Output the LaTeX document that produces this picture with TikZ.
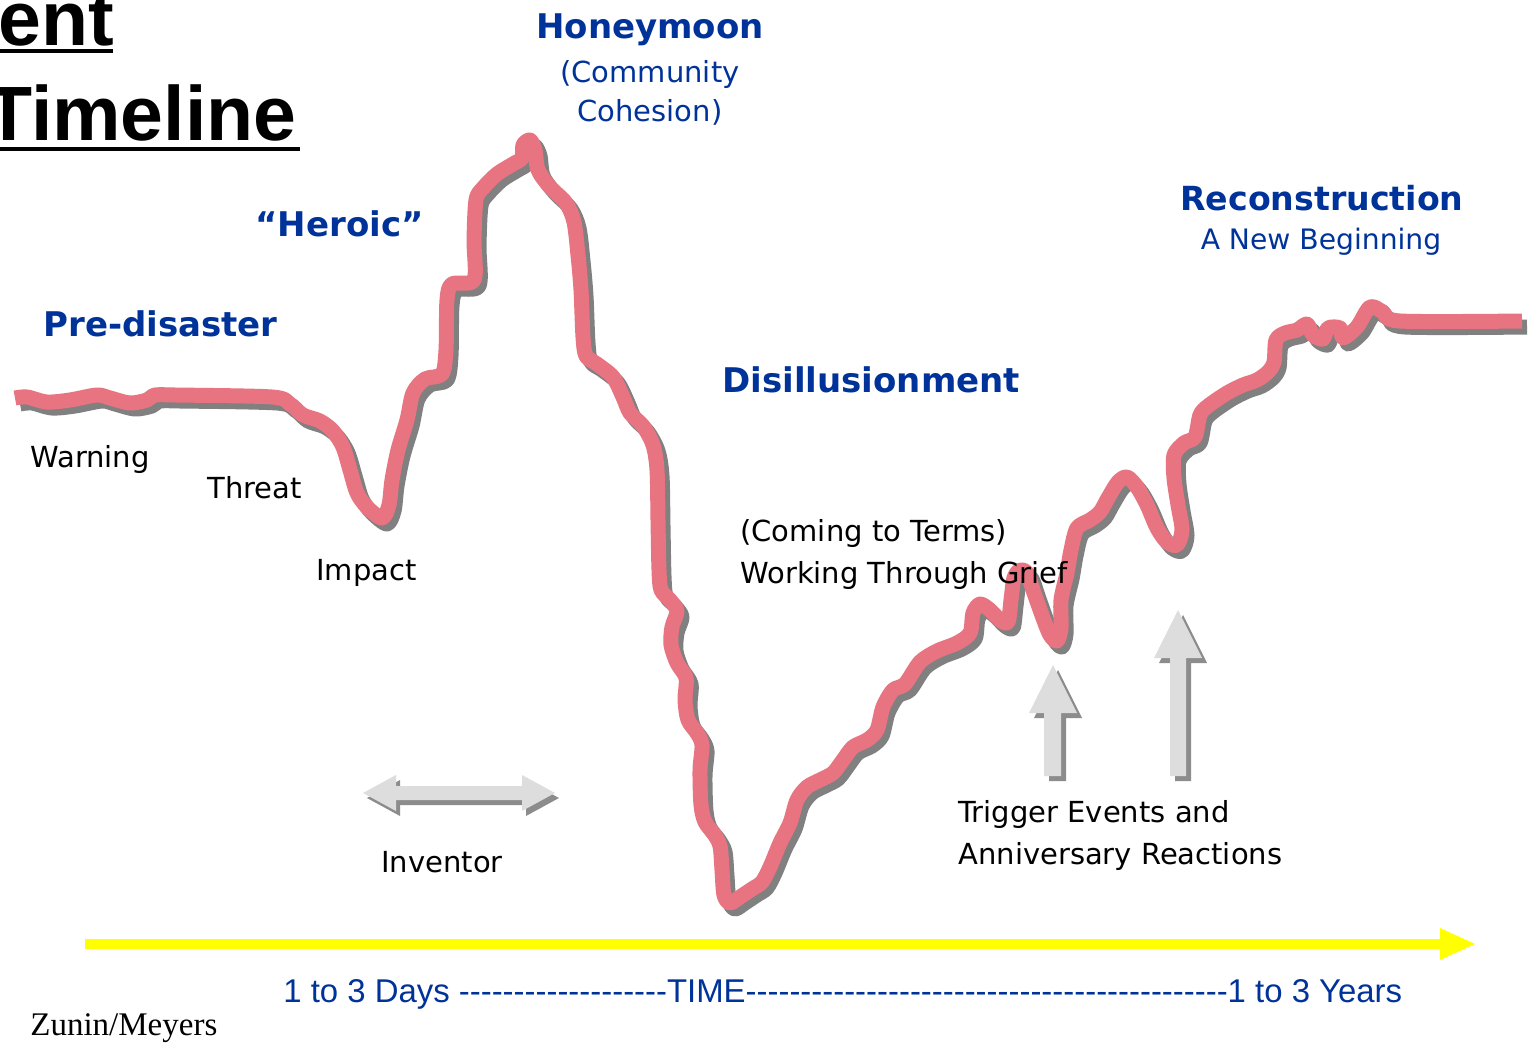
\documentclass[tikz,border=0pt]{standalone}
\usepackage{fontspec}
\setmainfont{DejaVu Sans}
\newfontfamily\titlefont{Liberation Sans}
\newfontfamily\arialf{Liberation Sans}
\newfontfamily\timesf{Liberation Serif}
\definecolor{curvered}{RGB}{231,116,128}
\definecolor{shadowgray}{RGB}{128,128,128}
\definecolor{headblue}{RGB}{0,51,153}
\definecolor{arrowgray}{RGB}{221,221,221}
\definecolor{arrowshadow}{RGB}{140,140,140}
\definecolor{axisyellow}{RGB}{255,255,0}
\tikzset{
  lbl/.style={anchor=base west, inner sep=0pt, font=\fontsize{14.5}{17}\selectfont},
  bluelbl/.style={anchor=base, inner sep=0pt, text=headblue, font=\fontsize{14.5}{17}\selectfont},
  headlbl/.style={anchor=base west, inner sep=0pt, text=headblue, font=\bfseries\fontsize{17}{20}\selectfont},
  titlelbl/.style={anchor=base west, inner sep=0pt, font=\titlefont\bfseries\fontsize{38.5}{44}\selectfont},
  uline/.style={line width=2pt, black},
  curvestroke/.style={line width=7.5pt, line join=round, line cap=butt},
  blockarrow/.style={fill=arrowgray},
  blockshadow/.style={fill=arrowshadow},
}
\newcommand\hyph{-\kern0pt}
\begin{document}
\begin{tikzpicture}[x=0.5pt,y=-0.5pt]
\useasboundingbox (0,0) rectangle (1531,1044);
\clip (0,0) rectangle (1531,1044);
\fill[white] (0,0) rectangle (1531,1044);

% title (cropped at the picture's edge, as in the reference)
\node[titlelbl] (t1) at (-2,45) {ent};
\node[titlelbl] (t2) at (-15,140) {Timeline};
\draw[uline] (0,51) -- (113,51);
\draw[uline] (0,149) -- (300,149);

% curve with shadow
\foreach \dx/\dy/\col in {5/6/shadowgray, 0/0/curvered}{
\draw[curvestroke, \col, shift={(\dx,\dy)}] plot[smooth, tension=0.5] coordinates {
(15,398) (27,397) (47,402) (70,400) (97,395) (110,398) (130,403) (147,400) (155,395) (175,395)
(272,397) (290,404) (303,415) (320,421) (333,431) (343,447) (350,470) (357,493) (367,507) (382,518)
(389,505) (392,480) (398,450) (407,420) (413,393) (425,379) (442,374) (446,350) (447,300) (452,284)
(474,280) (474,240) (476,200) (483,188) (497,174) (513,164) (522,158) (523,145) (530,140) (535,150)
(538,170) (550,187) (566,203) (574,222) (578,255) (581,290) (583,337) (586,356) (597,364) (613,377)
(623,397) (630,413) (643,426) (653,445) (657,470) (658,520) (659,570) (661,590) (670,600) (677,611)
(672,627) (671,645) (677,663) (686,678) (685,700) (688,720) (697,733) (702,745) (700,770) (701,805)
(705,822) (714,834) (720,846) (722,870) (724,895) (730,903) (740,897) (752,889) (762,882) (770,867)
(780,843) (790,823) (797,800) (807,787) (820,780) (833,773) (843,760) (853,747) (867,740) (877,730)
(883,707) (893,690) (905,684) (920,662) (937,651) (957,643) (970,633) (973,613) (980,604) (990,610)
(1000,620) (1008,622) (1011,600) (1014,578) (1020,570) (1027,573) (1033,590) (1043,618) (1050,635) (1057,641)
(1061,628) (1061,600) (1067,573) (1071,550) (1077,528) (1090,520) (1100,512) (1108,498) (1118,482) (1127,477)
(1137,487) (1147,505) (1157,528) (1167,542) (1177,545) (1182,530) (1178,505) (1174,478) (1174,455) (1184,443)
(1195,437) (1200,415) (1208,406) (1227,393) (1243,385) (1257,380) (1268,372) (1274,362) (1276,340) (1285,333)
(1297,330) (1307,324) (1313,335) (1323,339) (1328,328) (1340,328) (1343,338) (1357,327) (1370,307) (1383,312)
(1400,321) (1522,321)};
}

% double arrow (Inventor)
\foreach \dx/\dy/\sty in {4/5/blockshadow, 0/0/blockarrow}{
\fill[\sty, shift={(\dx,\dy)}] (363,793) -- (396,775) -- (396,786) -- (522,786) -- (522,775) -- (555,793)
  -- (522,811) -- (522,800) -- (396,800) -- (396,811) -- cycle;
}
% up arrows (trigger events)
\foreach \dx/\dy/\sty in {5/5/blockshadow, 0/0/blockarrow}{
\fill[\sty, shift={(\dx,\dy)}] (1053,665) -- (1077,713) -- (1061,713) -- (1061,776) -- (1044,776) -- (1044,713) -- (1029,713) -- cycle;
\fill[\sty, shift={(\dx,\dy)}] (1178,610) -- (1202,658) -- (1186,658) -- (1186,776) -- (1170,776) -- (1170,658) -- (1154,658) -- cycle;
}

% time axis
\coordinate (axL) at (85,944);
\coordinate (axR) at (1442,944);
\draw[axisyellow, line width=5pt] (axL) -- (axR);
\fill[axisyellow] (1440,928) -- (1475,944) -- (1440,960) -- cycle;

% blue headings
\node[headlbl] (pre) at (43,336) {Pre-disaster};
\node[headlbl] (her) at (255,236) {“Heroic”};
\node[headlbl, anchor=base] (hon) at (650,39) {Honeymoon};
\node[bluelbl] (com) at (650,82) {(Community};
\node[bluelbl] (coh) at (650,121) {Cohesion)};
\node[headlbl] (dis) at (722,392) {Disillusionment};
\node[headlbl, anchor=base, font=\bfseries\fontsize{16.6}{19}\selectfont] (rec) at (1322,210) {Reconstruction};
\node[bluelbl, font=\fontsize{14.1}{16}\selectfont] (anb) at (1321,249) {A New Beginning};

% black labels
\node[lbl] (warn) at (30,467) {Warning};
\node[lbl] (thr) at (207,498) {Threat};
\node[lbl] (imp) at (316,580) {Impact};
\node[lbl] (inv) at (381,872) {Inventor};
\node[lbl] (ctt) at (740,541) {(Coming to Terms)};
\node[lbl] (wtg) at (740,583) {Working Through Grief};
\node[lbl] (trg) at (958,822) {Trigger Events and};
\node[lbl] (ann) at (958,864) {Anniversary Reactions};

% bottom texts
\node[anchor=base west, inner sep=0pt, text=headblue, font=\arialf\fontsize{16.45}{19}\selectfont] (time) at (283,1002)
  {1 to 3 Days \foreach \i in {1,...,19}{\hyph}TIME\foreach \i in {1,...,44}{\hyph}1 to 3 Years};
\node[anchor=base west, inner sep=0pt, font=\timesf\fontsize{16.5}{19}\selectfont] (zm) at (30,1035) {Zunin/Meyers};
\end{tikzpicture}
\end{document}
